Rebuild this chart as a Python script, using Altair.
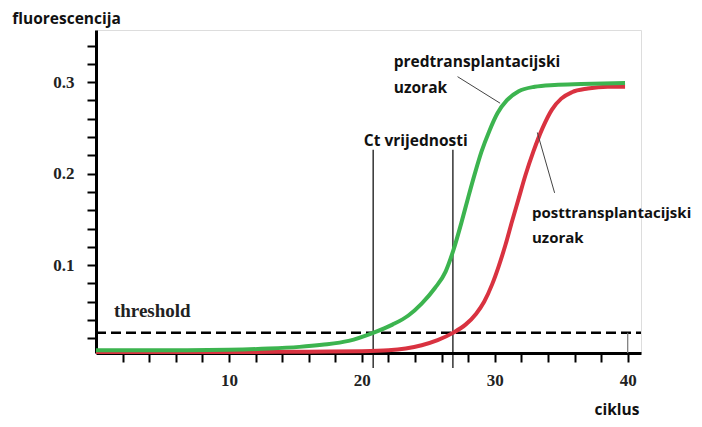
import altair as alt
import pandas as pd

# Curves (cycle, fluorescence)
green_x = [0, 6, 10, 13, 15.3, 17, 19, 20.85, 22.3, 23.5, 24.5, 25.5, 26.3, 26.9, 27.5, 28.0, 28.5, 29.0, 29.6, 30.2, 30.9, 31.8, 33, 34.5, 36.5, 39.8]
green_y = [0.007, 0.007, 0.0075, 0.0088, 0.0107, 0.013, 0.0172, 0.026, 0.035, 0.045, 0.058, 0.075, 0.093, 0.117, 0.147, 0.174, 0.200, 0.224, 0.247, 0.266, 0.280, 0.290, 0.295, 0.297, 0.298, 0.299]
red_x = [0, 10, 16, 20, 22, 23.3, 24.5, 25.7, 26.85, 27.8, 28.6, 29.2, 29.8, 30.3, 30.8, 31.3, 31.8, 32.3, 32.9, 33.6, 34.3, 35.0, 35.8, 37.0, 38.5, 39.8]
red_y = [0.005, 0.005, 0.0055, 0.006, 0.007, 0.009, 0.0125, 0.018, 0.026, 0.035, 0.047, 0.060, 0.079, 0.099, 0.122, 0.148, 0.173, 0.198, 0.224, 0.250, 0.270, 0.282, 0.289, 0.293, 0.295, 0.295]

threshold = 0.026
ct_values = [20.85, 26.85]
x_ticks = list(range(2, 41, 2))
y_ticks = [round(0.02 * i, 2) for i in range(1, 18)]

X_DOM = [0, 41]
Y_DOM = [0.004, 0.357]

xs = alt.Scale(domain=X_DOM, nice=False, zero=False)
ys = alt.Scale(domain=Y_DOM, nice=False, zero=False)

curves = pd.DataFrame(
    [{"c": c, "v": v, "s": "red", "o": i} for i, (c, v) in enumerate(zip(red_x, red_y))]
    + [{"c": c, "v": v, "s": "green", "o": i} for i, (c, v) in enumerate(zip(green_x, green_y))]
)

xaxis = alt.Axis(
    values=x_ticks, title=None, grid=False, domainColor="black", domainWidth=3,
    tickColor="black", tickWidth=2, tickSize=9, labelPadding=10, labelOverlap=False,
    labelFont="Liberation Serif", labelFontWeight="bold", labelFontSize=17, labelColor="#222",
    labelExpr="datum.value % 10 == 0 ? datum.label : ''")
yaxis = alt.Axis(
    values=y_ticks, title=None, grid=False, domainColor="black", domainWidth=3,
    tickColor="black", tickWidth=2, tickSize=9, labelPadding=13, labelOverlap=False,
    labelFont="Liberation Serif", labelFontWeight="bold", labelFontSize=17, labelColor="#222",
    labelExpr="abs(datum.value*10 - round(datum.value*10)) < 0.001 ? format(datum.value, '.1f') : ''")

X = lambda f: alt.X(f, scale=xs, axis=xaxis)
Y = lambda f: alt.Y(f, scale=ys, axis=yaxis)

red_line = alt.Chart(curves[curves.s == "red"]).mark_line(
    color="#d93240", strokeWidth=4, interpolate="monotone").encode(
    x=X("c:Q"), y=Y("v:Q"), order="o:Q")
green_line = alt.Chart(curves[curves.s == "green"]).mark_line(
    color="#3cb44f", strokeWidth=4, interpolate="monotone").encode(
    x=X("c:Q"), y=Y("v:Q"), order="o:Q")

thr = alt.Chart(pd.DataFrame({"a": [0], "b": [41], "v": [threshold]})).mark_rule(
    color="black", strokeWidth=2.5, strokeDash=[10, 5]).encode(
    x=X("a:Q"), x2="b:Q", y=Y("v:Q"))

tick40 = alt.Chart(pd.DataFrame({"c": [40], "a": [0.004], "b": [threshold]})).mark_rule(
    color="#777", strokeWidth=1.2).encode(
    x=X("c:Q"), y=Y("a:Q"), y2="b:Q")

ct = alt.Chart(pd.DataFrame({"c": ct_values, "a": [0.226, 0.226], "b": [-0.0124, -0.0124]})).mark_rule(
    color="black", strokeWidth=1.2).encode(
    x=X("c:Q"), y=Y("a:Q"), y2="b:Q")

leaders = alt.Chart(pd.DataFrame({
    "c": [27.2, 33.2], "v": [0.306, 0.245], "c2": [30.4, 34.5], "v2": [0.277, 0.179]})).mark_rule(
    color="#444", strokeWidth=1).encode(
    x=X("c:Q"), y=Y("v:Q"), x2="c2:Q", y2="v2:Q")

sans_labels = pd.DataFrame({
    "c": [-6.3, 22.4, 22.4, 20.15, 37.5],
    "v": [0.3685, 0.322, 0.294, 0.236, -0.0585],
    "t": ["fluorescencija", "predtransplantacijski", "uzorak", "Ct vrijednosti", "ciklus"],
})
sans_text = alt.Chart(sans_labels).mark_text(
    align="left", baseline="middle", font="Open Sans", fontWeight="bold", fontSize=15.5, color="#111").encode(
    x=X("c:Q"), y=Y("v:Q"), text="t:N")

post_labels = pd.DataFrame({
    "c": [32.8, 32.8],
    "v": [0.157, 0.130],
    "t": ["posttransplantacijski", "uzorak"],
})
post_text = alt.Chart(post_labels).mark_text(
    align="left", baseline="middle", font="Open Sans", fontWeight="bold", fontSize=15, color="#111").encode(
    x=X("c:Q"), y=Y("v:Q"), text="t:N")

serif_text = alt.Chart(pd.DataFrame({"c": [1.35], "v": [0.050], "t": ["threshold"]})).mark_text(
    align="left", baseline="middle", font="Liberation Serif", fontWeight="bold", fontSize=19, color="#222").encode(
    x=X("c:Q"), y=Y("v:Q"), text="t:N")

chart = alt.layer(
    thr, tick40, ct, red_line, green_line, leaders, sans_text, post_text, serif_text
).properties(
    width=545, height=323,
    autosize=alt.AutoSizeParams(type="none"),
    padding={"left": 88, "top": 22, "right": 53, "bottom": 66},
).configure_view(stroke=None).configure_axis(labelOverlap=False).configure(background="white")

chart.save("out.html", embed_options={"renderer": "svg", "actions": False})
